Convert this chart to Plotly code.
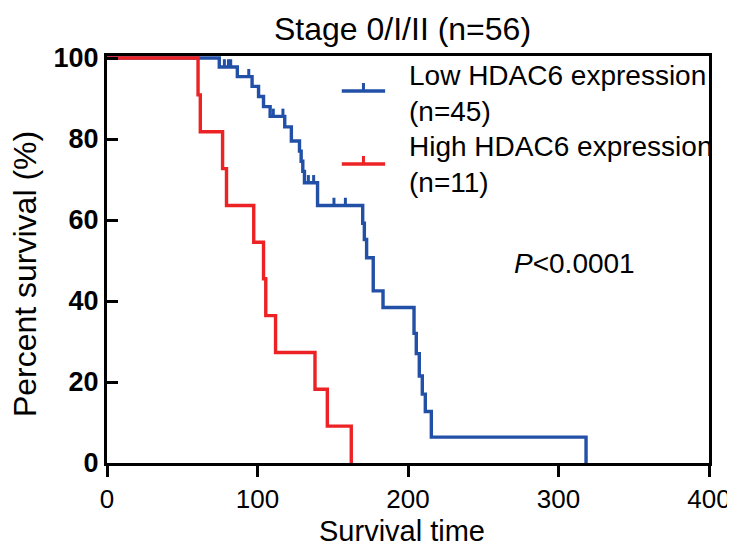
import plotly.graph_objects as go

# ---- data ----
low_times = [0, 74.6, 86.6, 96.4, 100.7, 104.0, 108.4, 118.1, 122.5, 127.9, 129.0, 130.1, 131.2,
             139.9, 169.9, 171.0, 172.5, 176.9, 183.4, 204.0, 205.5, 207.5, 209.5, 211.5, 215.5, 318.3]
low_surv = [100, 97.8, 95.4, 93.0, 90.5, 88.0, 85.6, 83.0, 79.5, 77.0, 74.5, 72.0, 69.2,
            63.6, 59.2, 55.2, 50.7, 42.5, 38.4, 32.0, 27.0, 21.5, 17.0, 12.7, 6.4, 0]
low_censored = [78.0, 80.7, 82.2, 94.2, 110.5, 116.9, 133.8, 137.3, 150.8, 158.4]

high_times = [0, 60.5, 62.0, 76.8, 79.4, 97.5, 104.0, 105.5, 112.0, 138.2, 146.4, 162.3]
high_surv = [100, 90.9, 81.8, 72.7, 63.6, 54.5, 45.5, 36.4, 27.3, 18.2, 9.1, 0]
high_censored = []

x_ticks = [0, 100, 200, 300, 400]
y_ticks = [0, 20, 40, 60, 80, 100]

title_text = "Stage 0/I/II (n=56)"
x_title = "Survival time"
y_title = "Percent survival (%)"
low_label = "Low HDAC6 expression<br>(n=45)"
high_label = "High HDAC6 expression<br>(n=11)"
p_text = "<i>P</i><0.0001"

BLUE = "#2150A6"
RED = "#EC2224"
FONT = "Arial, Liberation Sans, sans-serif"
TICK_H = 1.9


def surv_at(times, surv, t):
    s = surv[0]
    for ti, si in zip(times, surv):
        if ti <= t:
            s = si
    return s


def censor_segments(times, surv, cens):
    xs, ys = [], []
    for c in cens:
        s = surv_at(times, surv, c)
        xs += [c, c, None]
        ys += [s, s + TICK_H, None]
    return xs, ys


fig = go.Figure()
for times, surv, cens, color in [(low_times, low_surv, low_censored, BLUE),
                                 (high_times, high_surv, high_censored, RED)]:
    fig.add_trace(go.Scatter(x=times, y=surv, mode="lines", line=dict(color=color, width=3.4, shape="hv"),
                             showlegend=False, hoverinfo="skip"))
    if cens:
        cx, cy = censor_segments(times, surv, cens)
        fig.add_trace(go.Scatter(x=cx, y=cy, mode="lines", line=dict(color=color, width=3),
                                 showlegend=False, hoverinfo="skip"))

# manual legend (line with an upward censor tick)
for ycen, color, label, ytext in [(0.914, BLUE, low_label, 0.9079), (0.7346, RED, high_label, 0.7334)]:
    fig.add_shape(type="line", xref="paper", yref="paper", x0=0.390, x1=0.462, y0=ycen, y1=ycen,
                  line=dict(color=color, width=3.4))
    fig.add_shape(type="line", xref="paper", yref="paper", x0=0.426, x1=0.426, y0=ycen, y1=ycen + 0.0197,
                  line=dict(color=color, width=3))
    fig.add_annotation(xref="paper", yref="paper", x=0.499, y=ytext, xanchor="left", yanchor="middle",
                       text=label, showarrow=False, align="left", font=dict(size=28, color="black", family=FONT))

fig.add_annotation(xref="paper", yref="paper", x=0.673, y=0.4914, xanchor="left", yanchor="middle",
                   text=p_text, showarrow=False, font=dict(size=28, color="black", family=FONT))
fig.add_annotation(xref="paper", yref="paper", x=0.491, y=1.0663, xanchor="center", yanchor="middle",
                   text=title_text, showarrow=False, font=dict(size=32, color="black", family=FONT))
fig.add_annotation(xref="paper", yref="paper", x=0.49, y=-0.2113, xanchor="center", yanchor="bottom",
                   text=x_title, showarrow=False, font=dict(size=29, color="black", family=FONT))
fig.add_annotation(xref="paper", yref="paper", x=-0.136, y=0.4644, xanchor="center", yanchor="middle",
                   text=y_title, textangle=-90, showarrow=False,
                   font=dict(size=32, color="black", family=FONT))

fig.update_layout(
    width=735, height=549,
    margin=dict(l=99, r=23, t=48, b=94),
    paper_bgcolor="white", plot_bgcolor="white",
    font=dict(family=FONT, color="black"),
    showlegend=False,
)
fig.update_xaxes(range=[0, 400], tickvals=x_ticks, ticks="outside", ticklen=11, tickwidth=3,
                 tickcolor="black", showline=True, linecolor="black", linewidth=3, mirror=True,
                 showgrid=False, zeroline=False, tickfont=dict(size=26, family=FONT, color="black"))
fig.update_yaxes(range=[0, 100.5], tickvals=y_ticks, ticks="inside", ticklen=11, tickwidth=3,
                 tickcolor="black", showline=True, linecolor="black", linewidth=3, mirror=True,
                 showgrid=False, zeroline=False,
                 tickfont=dict(size=27, family=FONT, color="black", weight="bold"))

fig.write_html("out.html")
